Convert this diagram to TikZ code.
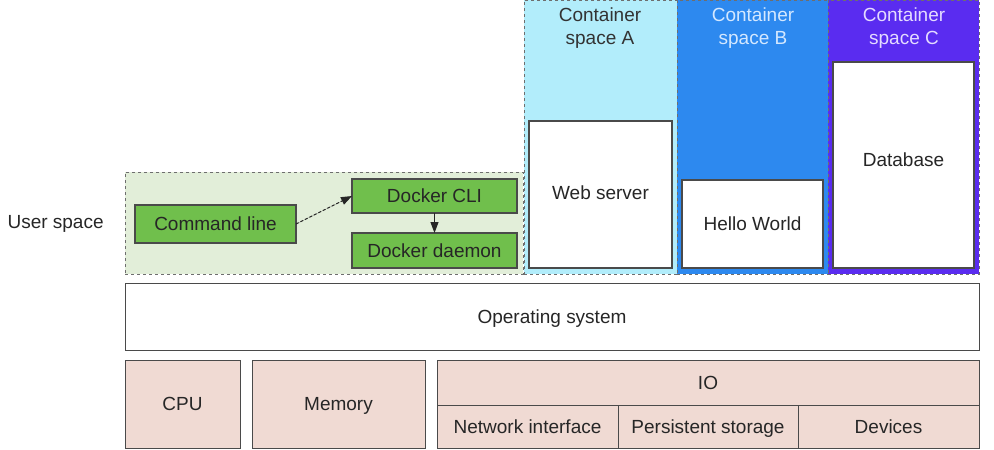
\documentclass[tikz,border=0pt]{standalone}
\usepackage{fontspec}
\setmainfont{Liberation Sans}
\usetikzlibrary{arrows.meta}
\definecolor{greenarea}{HTML}{E2EED9}
\definecolor{greenbox}{HTML}{70BF4C}
\definecolor{contA}{HTML}{B2EDFB}
\definecolor{contB}{HTML}{2D89EF}
\definecolor{contC}{HTML}{5A2CF0}
\definecolor{hw}{HTML}{F0DAD3}
\definecolor{edge}{HTML}{4A4A4A}
\definecolor{txtB}{HTML}{D4E8FF}
\definecolor{txtC}{HTML}{E4DBFF}
\tikzset{
  rbox/.style={draw=edge, line width=1.1pt, inner sep=0pt, outer sep=0pt, anchor=north west, font=\fontsize{19}{22}\selectfont, text=black!85, text height=13.7pt, text depth=0pt},
  gbox/.style={rbox, fill=greenbox},
  wbox/.style={rbox, fill=white},
  hbox/.style={rbox, fill=hw},
  lbl/.style={font=\fontsize{19}{22}\selectfont, text=black!85, text height=13.7pt, text depth=0pt},
  region/.style={draw=edge!80, dashed, line width=0.9pt, inner sep=0pt, outer sep=0pt, anchor=north west},
  title/.style={font=\fontsize{19}{23}\selectfont, align=center, anchor=center},
  arr/.style={-{Triangle[length=11pt,width=8pt]}, line width=1.1pt, draw=black!85, fill=black!85}
}
\begin{document}
\begin{tikzpicture}[x=1pt,y=-1pt]
\useasboundingbox (0,0) rectangle (994,450);
% user space region
\node[region, fill=greenarea, minimum width=398, minimum height=102] (us) at (125,172) {};
\node[lbl, anchor=west] (uslabel) at (4,222) {User space};
% containers
\node[region, fill=contA, minimum width=153, minimum height=274] (ca) at (524,0) {};
\node[region, fill=contB, minimum width=151, minimum height=274] (cb) at (677,0) {};
\node[region, fill=contC, minimum width=151, minimum height=274] (cc) at (828,0) {};
\node[title, text=black!80] (ta) at (600,28) {Container\\space A};
\node[title, text=txtB] (tb) at (753,28) {Container\\space B};
\node[title, text=txtC] (tc) at (904,28) {Container\\space C};
% green boxes
\node[gbox, minimum width=161, minimum height=38] (cmd) at (135,205) {Command line};
\node[gbox, minimum width=165, minimum height=34] (cli) at (352,179) {Docker CLI};
\node[gbox, minimum width=165, minimum height=35] (dmn) at (352,233) {Docker daemon};
\draw[arr, densely dashed] (cmd.east) -- (cli.west);
\draw[arr] (cli.south) -- (dmn.north);
% container apps
\node[wbox, minimum width=143, minimum height=147] (web) at (529,121) {};
\node[lbl] (webt) at (600.5,193) {Web server};
\node[wbox, minimum width=141, minimum height=88] (hello) at (682,180) {Hello World};
\node[wbox, minimum width=141, minimum height=206] (db) at (833,62) {};
\node[lbl] (dbt) at (903.5,160) {Database};
% OS
\node[wbox, line width=0.9pt, minimum width=854, minimum height=67] (os) at (125,283) {Operating system};
% hardware
\node[hbox, line width=0.9pt, minimum width=115, minimum height=88] (cpu) at (125,360) {CPU};
\node[hbox, line width=0.9pt, minimum width=173, minimum height=88] (mem) at (252,360) {Memory};
\node[hbox, line width=0.9pt, minimum width=542, minimum height=45] (io) at (437,360) {IO};
\node[hbox, line width=0.9pt, minimum width=181, minimum height=43] (net) at (437,405) {Network interface};
\node[hbox, line width=0.9pt, minimum width=180, minimum height=43] (ps) at (618,405) {Persistent storage};
\node[hbox, line width=0.9pt, minimum width=181, minimum height=43] (dev) at (798,405) {Devices};
\end{tikzpicture}
\end{document}
